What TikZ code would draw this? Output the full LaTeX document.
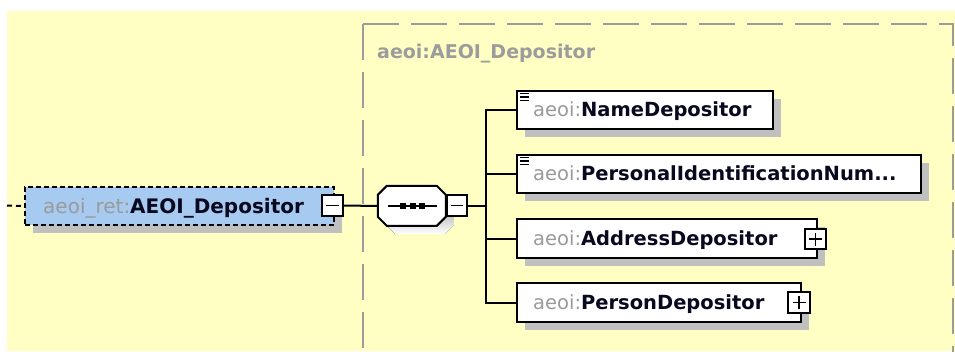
\documentclass[tikz,border=0pt]{standalone}
\usepackage{fontspec}
\setmainfont{DejaVu Sans}
\usetikzlibrary{shadows}
\definecolor{bgyellow}{HTML}{FFFFC4}
\definecolor{elblue}{HTML}{A6CAF0}
\definecolor{shade}{HTML}{C0C0C0}
\definecolor{grp}{HTML}{9C9C9C}
\definecolor{pfx}{HTML}{9A9A9A}
\definecolor{ink}{HTML}{08081E}
\begin{document}
\begin{tikzpicture}[x=1pt,y=-1pt,
  shad/.style={drop shadow={shadow xshift=8pt,shadow yshift=-8pt,fill=shade,opacity=1}},
  childbox/.style={draw=black,line width=2pt,fill=white,shad,anchor=north west,inner sep=0pt},
  mainbox/.style={draw=black,line width=2pt,dash pattern=on 5pt off 3pt,fill=elblue,shad,anchor=north west,inner sep=0pt},
  togglebox/.style={draw=black,line width=1.8pt,fill=white,inner sep=0pt,minimum width=21pt,minimum height=21pt},
  seqbox/.style={inner sep=0pt,minimum width=68pt,minimum height=40pt},
  lbl/.style={inner sep=0pt,anchor=base west,text=ink,font=\fontsize{19.5}{23}\selectfont},
  conn/.style={draw=black,line width=2pt},
  grpline/.style={draw=grp,line width=2pt,dash pattern=on 36pt off 12pt}
]
\useasboundingbox[fill=white] (0,0) rectangle (955,351);
\fill[bgyellow] (7,11) rectangle (955,351);
\begin{scope}
\clip (0,0) rectangle (955,351);
% group box
\draw[grpline] (363,24) -- (363,360);
\draw[grpline] (363,24) -- (953,24) -- (953,360);
\end{scope}
\node[lbl,text=grp,font=\fontsize{19}{23}\selectfont] (glabel) at (377,58.5) {\textbf{aeoi:AEOI\_Depositor}};

% main element
\node[mainbox,minimum width=309pt,minimum height=38pt] (main) at (24,186) {};
\node[lbl,font=\fontsize{20}{24}\selectfont] (mainlbl) at (43,213) {\textcolor{pfx}{aeoi\_ret:}\textbf{AEOI\_Depositor}};
\node[togglebox] (mtog) at (332.5,205.5) {};
\draw[line width=1.8pt] ([xshift=-6.5pt]mtog.center) -- ([xshift=6.5pt]mtog.center);
\coordinate (inc) at (7,205.5);
\draw[conn,dash pattern=on 5pt off 4pt] (inc) -- (main.west);

% sequence compositor
\node[seqbox] (seq) at (412,206) {};
\fill[shade] ([shift={(8,8)}]seq.north west) ++(9,0) -- ++(50,0) -- ++(9,9) -- ++(0,22) -- ++(-9,9) -- ++(-50,0) -- ++(-9,-9) -- ++(0,-22) -- cycle;
\filldraw[fill=white,draw=black,line width=2pt] (seq.north west) ++(9,0) -- ++(50,0) -- ++(9,9) -- ++(0,22) -- ++(-9,9) -- ++(-50,0) -- ++(-9,-9) -- ++(0,-22) -- cycle;
\draw[line width=1.8pt] ([xshift=-24pt]seq.center) -- ([xshift=25pt]seq.center);
\foreach \dx in {-9,0.5,10}
  \fill[black] ([xshift=\dx pt]seq.center) ++(-3,-3) rectangle ++(6,6);
\node[togglebox,minimum width=20pt] (stog) at (457,205.5) {};
\draw[line width=1.8pt] ([xshift=-6pt]stog.center) -- ([xshift=6pt]stog.center);
\draw[conn] (mtog.east) -- (seq.west);

% children
\node[childbox,minimum width=256pt,minimum height=38pt] (c1) at (516,90) {};
\node[childbox,minimum width=404pt,minimum height=38pt] (c2) at (516,154) {};
\node[childbox,minimum width=300pt,minimum height=39pt] (c3) at (516,218) {};
\node[childbox,minimum width=284pt,minimum height=39pt] (c4) at (516,282) {};

\node[lbl] (t1) at (533,116.5) {\textcolor{pfx}{aeoi:}\textbf{NameDepositor}};
\node[lbl] (t2) at (533,180.5) {\textcolor{pfx}{aeoi:}\textbf{PersonalIdentificationNum...}};
\node[lbl] (t3) at (533,245) {\textcolor{pfx}{aeoi:}\textbf{AddressDepositor}};
\node[lbl] (t4) at (533,309) {\textcolor{pfx}{aeoi:}\textbf{PersonDepositor}};

% simple content icons
\foreach \yy in {90,154}{
  \draw[line width=1.3pt] (520,\yy+3.5) -- (529,\yy+3.5);
  \draw[line width=1.3pt] (520,\yy+7) -- (529,\yy+7);
  \draw[line width=1.3pt] (520,\yy+10.5) -- (529,\yy+10.5);
}

% expand boxes
\node[togglebox,minimum height=20pt] (p3) at (815.5,239) {};
\draw[line width=1.8pt] ([xshift=-6.5pt]p3.center) -- ([xshift=6.5pt]p3.center)
  ([yshift=-6.5pt]p3.center) -- ([yshift=6.5pt]p3.center);
\node[togglebox,minimum width=22pt] (p4) at (799,302.5) {};
\draw[line width=1.8pt] ([xshift=-6.5pt]p4.center) -- ([xshift=6.5pt]p4.center)
  ([yshift=-6.5pt]p4.center) -- ([yshift=6.5pt]p4.center);

% connectors to children
\coordinate (trunk) at (486,205.5);
\draw[conn] (stog.east) -- (trunk);
\draw[conn] (c1.west) -| (trunk);
\draw[conn] (c2.west) -| (trunk);
\draw[conn] (c3.west) -| (trunk);
\draw[conn] (c4.west) -| (trunk);
\end{tikzpicture}
\end{document}
